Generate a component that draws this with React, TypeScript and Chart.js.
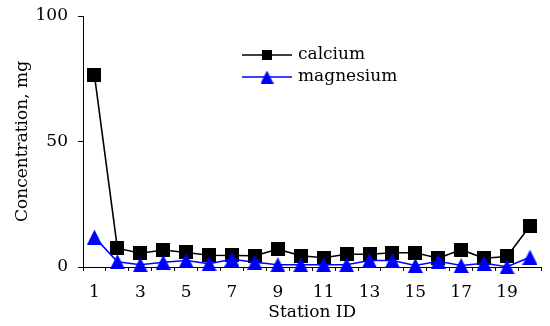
import React, { useEffect, useRef } from 'react';
import { Chart, registerables } from 'chart.js';

Chart.register(...registerables);

const stations = ['1', '2', '3', '4', '5', '6', '7', '8', '9', '10', '11', '12', '13', '14', '15', '16', '17', '18', '19', '20'];
const calcium = [76.4, 7.5, 5.5, 6.8, 5.8, 4.7, 4.6, 4.5, 7.1, 4.5, 3.7, 5.1, 5.1, 5.7, 5.7, 3.5, 6.9, 3.5, 4.2, 16.3];
const magnesium = [11.9, 2.1, 0.9, 1.9, 2.6, 1.3, 3.1, 1.9, 0.9, 0.9, 0.9, 0.9, 2.6, 2.6, 0.6, 2.3, 0.6, 1.5, 0.1, 3.9];
const seriesNames = ['calcium', 'magnesium'];
const yTicks = [0, 50, 100];

const FONT = "'DejaVu Serif', serif";

function squareImg(size: number, color: string) {
  const c = document.createElement('canvas');
  c.width = size;
  c.height = size;
  const ctx = c.getContext('2d')!;
  ctx.fillStyle = color;
  ctx.fillRect(0, 0, size, size);
  return c;
}

function triangleImg(size: number, color: string) {
  const c = document.createElement('canvas');
  c.width = size;
  c.height = size;
  const ctx = c.getContext('2d')!;
  ctx.fillStyle = color;
  ctx.beginPath();
  ctx.moveTo(size / 2, 0);
  ctx.lineTo(size, size);
  ctx.lineTo(0, size);
  ctx.closePath();
  ctx.fill();
  return c;
}

export default function App() {
  const ref = useRef<HTMLCanvasElement>(null);

  useEffect(() => {
    const sq = squareImg(14, '#000000');
    const tri = triangleImg(15, '#0000ff');
    const sqL = squareImg(10, '#000000');
    const triL = triangleImg(13, '#0000ff');

    const legendPlugin = {
      id: 'customLegend',
      afterDraw(chart: any) {
        const ctx = chart.ctx;
        const ca = chart.chartArea;
        const x0 = ca.left + 159;
        const rows = [
          { y: ca.top + 39, color: '#000000', img: sqL, name: seriesNames[0] },
          { y: ca.top + 61, color: '#0000ff', img: triL, name: seriesNames[1] },
        ];
        ctx.save();
        rows.forEach((r) => {
          ctx.strokeStyle = r.color;
          ctx.lineWidth = 1.5;
          ctx.beginPath();
          ctx.moveTo(x0, r.y);
          ctx.lineTo(x0 + 50, r.y);
          ctx.stroke();
          ctx.drawImage(r.img, x0 + 25 - r.img.width / 2, r.y - r.img.height / 2);
          ctx.fillStyle = '#000000';
          ctx.font = `17px ${FONT}`;
          ctx.textBaseline = 'middle';
          ctx.textAlign = 'left';
          ctx.fillText(r.name, x0 + 56, r.y);
        });
        ctx.restore();
      },
    };

    const chart = new Chart(ref.current!, {
      type: 'line',
      data: {
        labels: stations,
        datasets: [
          {
            label: seriesNames[0],
            data: calcium,
            borderColor: '#000000',
            backgroundColor: '#000000',
            borderWidth: 1.6,
            pointStyle: sq as any,
            pointRadius: 7,
            clip: false as any,
            order: 1,
          },
          {
            label: seriesNames[1],
            data: magnesium,
            borderColor: '#0000ff',
            backgroundColor: '#0000ff',
            borderWidth: 1.6,
            pointStyle: tri as any,
            pointRadius: 7,
            clip: false as any,
            order: 0,
          },
        ],
      },
      options: {
        animation: false,
        responsive: false,
        devicePixelRatio: 1,
        layout: { padding: { top: 16, right: 5, left: 0, bottom: 0 } },
        plugins: { legend: { display: false }, tooltip: { enabled: false } },
        elements: { line: { tension: 0 } },
        scales: {
          x: {
            type: 'category',
            offset: true,
            grid: {
              offset: true,
              drawOnChartArea: false,
              drawTicks: true,
              tickLength: 4,
              color: '#000000',
              lineWidth: 1,
            },
            border: { color: '#000000', width: 1 },
            ticks: {
              autoSkip: false,
              maxRotation: 0,
              padding: 11,
              color: '#000000',
              font: { family: FONT, size: 17 },
              callback: function (this: any, value: any, index: number) {
                return index % 2 === 0 ? stations[index] : '';
              },
            },
            title: {
              display: true,
              text: 'Station ID',
              color: '#000000',
              font: { family: FONT, size: 17 },
              padding: { top: 0, bottom: 3 },
            },
            afterFit(scale: any) {
              scale.height = 59;
              scale.paddingLeft = 0;
              scale.paddingRight = 0;
            },
          },
          y: {
            min: 0,
            max: 100,
            afterBuildTicks(scale: any) {
              scale.ticks = yTicks.map((v) => ({ value: v }));
            },
            grid: {
              drawOnChartArea: false,
              drawTicks: true,
              tickLength: 5,
              color: '#000000',
              lineWidth: 1,
            },
            border: { color: '#000000', width: 1 },
            ticks: {
              padding: 10,
              color: '#000000',
              font: { family: FONT, size: 17 },
            },
            title: {
              display: true,
              text: 'Concentration, mg',
              color: '#000000',
              font: { family: FONT, size: 17 },
              padding: { top: 12, bottom: 0 },
            },
            afterFit(scale: any) {
              scale.width = 83;
              scale.paddingTop = 0;
              scale.paddingBottom = 0;
            },
          },
        },
      },
      plugins: [legendPlugin],
    });
    return () => chart.destroy();
  }, []);

  return (
    <div style={{ position: 'absolute', left: 0, top: 0, width: 550, height: 326, background: '#ffffff' }}>
      <canvas ref={ref} width={550} height={326} style={{ width: 550, height: 326 }} />
    </div>
  );
}
